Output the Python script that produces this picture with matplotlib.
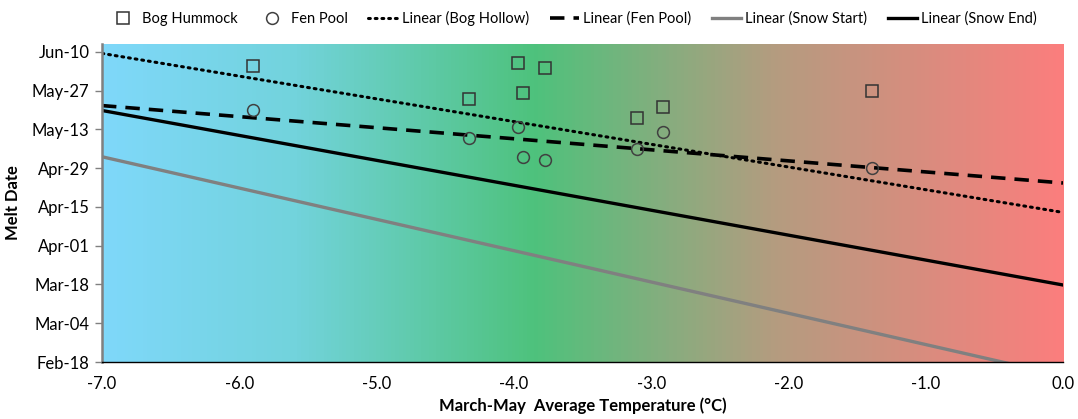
import matplotlib.pyplot as plt
import numpy as np
from matplotlib.colors import LinearSegmentedColormap

plt.rcParams['font.family'] = ['Lato', 'DejaVu Sans']

# Bog Hummock points (temperature, day of year)
hummock_t = [-5.9, -4.33, -3.97, -3.93, -3.77, -3.1, -2.91, -1.39]
hummock_doy = [156, 144, 157, 146, 155, 137, 141, 147]

# Fen Pool points
fen_t = [-5.9, -4.33, -3.97, -3.93, -3.77, -3.1, -2.91, -1.39]
fen_doy = [140, 130, 134, 123, 122, 126, 132, 119]

# other trend lines: (slope, intercept at 0 °C)
hollow_fit = (-8.2, 103.0)
snow_start_fit = (-11.3, 44.0)
snow_end_fit = (-9.0, 76.8)

tick_doy = [49, 63, 77, 91, 105, 119, 133, 147, 161]
tick_labels = ['Feb-18', 'Mar-04', 'Mar-18', 'Apr-01', 'Apr-15',
               'Apr-29', 'May-13', 'May-27', 'Jun-10']
x_ticks = [-7, -6, -5, -4, -3, -2, -1, 0]

fig = plt.figure(figsize=(10.78, 4.19), dpi=100)
ax = fig.add_axes([0.0946, 0.136, 0.8915, 0.759])

xmin, xmax = -7, 0
ymin, ymax = 49, 163.8

# background gradient blue -> green -> red
cmap = LinearSegmentedColormap.from_list(
    'bg', [(0.0, '#7fd8fa'), (0.2, '#72d3dc'), (0.45, '#4ec27c'),
           (0.7, '#b49c80'), (1.0, '#fb7e7d')])
grad = np.linspace(0, 1, 256).reshape(1, -1)
ax.imshow(grad, extent=[xmin, xmax, ymin, ymax], aspect='auto', cmap=cmap, zorder=0)

xs = np.array([xmin, xmax])
ax.plot(hummock_t, hummock_doy, 's', ms=8, mfc='none', mec='#333333', mew=1.1,
        label='Bog Hummock', zorder=5)
ax.plot(fen_t, fen_doy, 'o', ms=8.5, mfc='none', mec='#404040', mew=1.1,
        label='Fen Pool', zorder=5)
ax.plot(xs, hollow_fit[0] * xs + hollow_fit[1], color='black', lw=2.2,
        linestyle=(0, (0.6, 1.6)), dash_capstyle='round', label='Linear (Bog Hollow)', zorder=4)
m, b = np.polyfit(fen_t, fen_doy, 1)
ax.plot(xs, m * xs + b, color='black', lw=2.6, linestyle=(0, (4, 2.5)),
        label='Linear (Fen Pool)', zorder=4)
ax.plot(xs, snow_start_fit[0] * xs + snow_start_fit[1], color='#808080', lw=2.4,
        label='Linear (Snow Start)', zorder=3)
ax.plot(xs, snow_end_fit[0] * xs + snow_end_fit[1], color='black', lw=2.4,
        label='Linear (Snow End)', zorder=3)

ax.set_xlim(xmin, xmax)
ax.set_ylim(ymin, ymax)
ax.set_yticks(tick_doy)
ax.set_yticklabels(tick_labels)
ax.set_xticks(x_ticks)
ax.set_xticklabels(['%.1f' % v for v in x_ticks])
ax.tick_params(axis='y', length=5, width=1, color='#808080', labelsize=12, pad=4)
ax.tick_params(axis='x', length=0, labelsize=12, pad=10)

for s in ['top', 'right']:
    ax.spines[s].set_visible(False)
ax.spines['left'].set_color('#808080')
ax.spines['left'].set_linewidth(1.8)
ax.spines['bottom'].set_color('black')
ax.spines['bottom'].set_linewidth(1)
ax.spines['left'].set_zorder(6)
ax.spines['bottom'].set_zorder(6)

ax.set_xlabel('March-May  Average Temperature (°C)', fontsize=12, fontweight='bold', labelpad=4)
ax.set_ylabel('Melt Date', fontsize=12, fontweight='bold', labelpad=8)

fig.legend(loc='upper center', bbox_to_anchor=(0.531, 1.005), ncol=6, frameon=False,
           fontsize=10.5, handlelength=2.0, handletextpad=0.3, columnspacing=1.4)

fig.savefig('out.png', dpi=100)
